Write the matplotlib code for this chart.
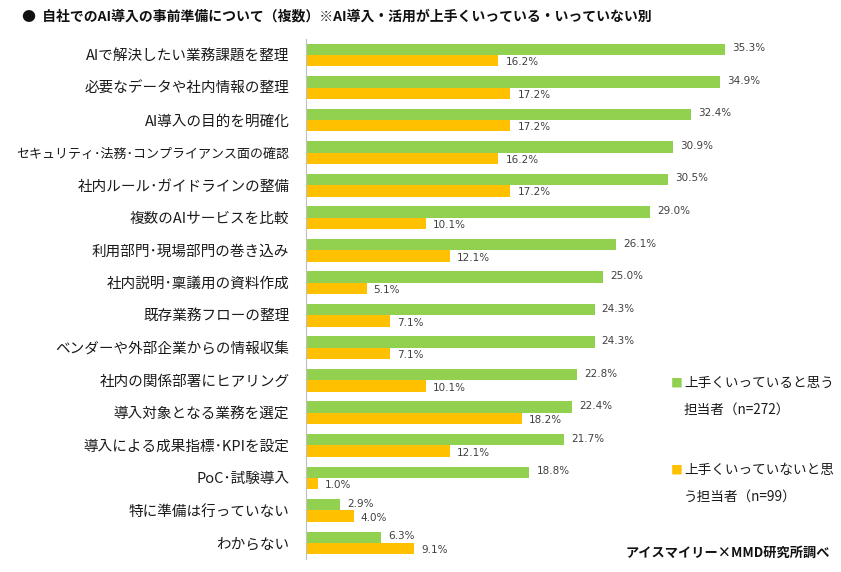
import matplotlib
matplotlib.use("Agg")
import matplotlib.pyplot as plt
import numpy as np

plt.rcParams['font.family'] = ['Noto Sans CJK JP', 'DejaVu Sans']

# --- data ---
categories = [
    "AIで解決したい業務課題を整理",
    "必要なデータや社内情報の整理",
    "AI導入の目的を明確化",
    "セキュリティ・法務・コンプライアンス面の確認",
    "社内ルール・ガイドラインの整備",
    "複数のAIサービスを比較",
    "利用部門・現場部門の巻き込み",
    "社内説明・稟議用の資料作成",
    "既存業務フローの整理",
    "ベンダーや外部企業からの情報収集",
    "社内の関係部署にヒアリング",
    "導入対象となる業務を選定",
    "導入による成果指標・KPIを設定",
    "PoC・試験導入",
    "特に準備は行っていない",
    "わからない",
]
good = [35.3, 34.9, 32.4, 30.9, 30.5, 29.0, 26.1, 25.0, 24.3, 24.3, 22.8, 22.4, 21.7, 18.8, 2.9, 6.3]
bad = [16.2, 17.2, 17.2, 16.2, 17.2, 10.1, 12.1, 5.1, 7.1, 7.1, 10.1, 18.2, 12.1, 1.0, 4.0, 9.1]
legend_good = ["上手くいっていると思う", "担当者（n=272）"]
legend_bad = ["上手くいっていないと思", "う担当者（n=99）"]
title = "●  自社でのAI導入の事前準備について（複数）※AI導入・活用が上手くいっている・いっていない別"
source = "アイスマイリー×MMD研究所調べ"

GREEN = "#92D050"
ORANGE = "#FFC000"
W, H = 841, 572

fig = plt.figure(figsize=(8.41, 5.72), dpi=100)
ax = fig.add_axes([306 / W, 12.7 / H, 475 / W, 520.6 / H])

y = np.arange(len(categories))
h = 0.35
ax.barh(y - h / 2, good, height=h, color=GREEN)
ax.barh(y + h / 2, bad, height=h, color=ORANGE)

for yi, g, b in zip(y, good, bad):
    ax.text(g + 0.6, yi - h / 2 - 0.03, f"{g:.1f}%", va="center", ha="left",
            fontsize=7.5, family="DejaVu Sans", color="#404040")
    ax.text(b + 0.6, yi + h / 2 + 0.05, f"{b:.1f}%", va="center", ha="left",
            fontsize=7.5, family="DejaVu Sans", color="#404040")

ax.set_xlim(0, 40)
ax.set_ylim(len(categories) - 0.5, -0.5)
ax.set_yticks(y)
# narrow middle dot, as in the original typeface
ax.set_yticklabels([c.replace("・", "･") for c in categories], fontsize=10.5, color="#1a1a1a")
ax.tick_params(axis="y", length=0, pad=12)
ax.set_xticks([])
for s in ["top", "right", "bottom"]:
    ax.spines[s].set_visible(False)
ax.spines["left"].set_color("#BFBFBF")

# shrink any label that would run off the left edge
fig.canvas.draw()
renderer = fig.canvas.get_renderer()
for lab in ax.get_yticklabels():
    bb = lab.get_window_extent(renderer)
    if bb.x0 < 16:
        lab.set_fontsize(10.5 * (bb.x1 - 16) / bb.width)

# legend drawn as text with coloured squares
def legend_entry(y_top, color, lines):
    fig.text(671 / W, 1 - y_top / H, "■", color=color, fontsize=8.5, va="center", ha="left")
    for i, line in enumerate(lines):
        fig.text(684 / W, 1 - (y_top + 27 * i) / H, line, fontsize=9.8, va="center",
                 ha="left", color="#1a1a1a")

legend_entry(383, GREEN, legend_good)
legend_entry(470, ORANGE, legend_bad)

fig.text(22 / W, 1 - 17 / H, title, fontsize=10, fontweight="bold", va="center", ha="left",
         color="#111111")
fig.text(830 / W, 1 - 553 / H, source, fontsize=9.5, fontweight="bold", va="center", ha="right",
         color="#111111")

fig.savefig("out.png", dpi=100)
